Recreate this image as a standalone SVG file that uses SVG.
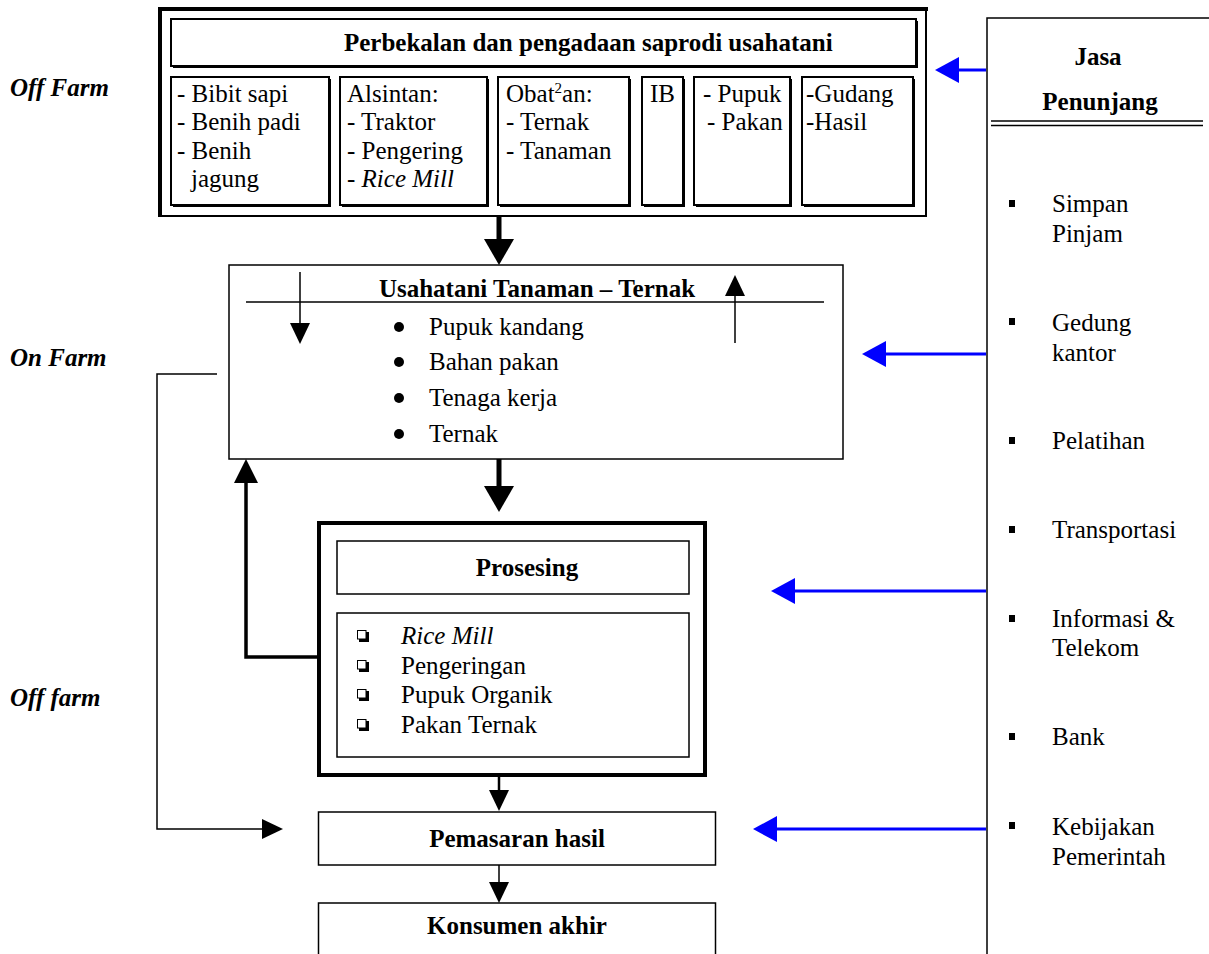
<svg xmlns="http://www.w3.org/2000/svg" width="1209" height="954" viewBox="0 0 1209 954">
<style>
text{font-family:"Liberation Serif","Times New Roman",serif;font-size:25px;fill:#000}
.b{font-weight:bold}
.i{font-style:italic}
.bi{font-weight:bold;font-style:italic}
.c{text-anchor:middle}
.box{fill:#fff;stroke:#000;stroke-width:1.5}
.sbox{fill:#fff;stroke:#000;stroke-width:2}
.shd{fill:#000}
.ln{fill:none;stroke:#000}
.blue{fill:none;stroke:#0000ff;stroke-width:3}
</style>
<defs>
<marker id="hBig" viewBox="0 -15 26 30" refX="0" refY="0" markerWidth="26" markerHeight="30" markerUnits="userSpaceOnUse" orient="auto"><path d="M0,-15L26,0L0,15z" fill="#000"/></marker>
<marker id="hMed" viewBox="0 -12 24 24" refX="0" refY="0" markerWidth="24" markerHeight="24" markerUnits="userSpaceOnUse" orient="auto"><path d="M0,-12L24,0L0,12z" fill="#000"/></marker>
<marker id="hSm" viewBox="0 -10 21 20" refX="0" refY="0" markerWidth="21" markerHeight="20" markerUnits="userSpaceOnUse" orient="auto"><path d="M0,-10L21,0L0,10z" fill="#000"/></marker>
<marker id="hBlue" viewBox="0 -13 24 26" refX="0" refY="0" markerWidth="24" markerHeight="26" markerUnits="userSpaceOnUse" orient="auto"><path d="M0,-13L24,0L0,13z" fill="#0000ff"/></marker>
</defs>
<rect width="1209" height="954" fill="#fff"/>

<g id="labels">
<text class="bi" x="10" y="96">Off Farm</text>
<text class="bi" x="10" y="366">On Farm</text>
<text class="bi" x="10" y="706">Off farm</text>
</g>

<g id="saprodi">
<rect x="160" y="9" width="766" height="207" fill="#fff"/>
<path d="M160,216V9H928" class="ln" stroke-width="4"/>
<path d="M926,8V216H158" class="ln" stroke-width="2"/>
<rect class="shd" x="173" y="21" width="745" height="47"/>
<rect class="sbox" x="171" y="19" width="745" height="47"/>
<text class="b" x="344" y="51">Perbekalan dan pengadaan saprodi usahatani</text>
<rect class="shd" x="173" y="79" width="158" height="128"/>
<rect class="sbox" x="171" y="77" width="158" height="128"/>
<text x="177" y="102">- Bibit sapi</text>
<text x="177" y="130">- Benih padi</text>
<text x="177" y="159">- Benih</text>
<text x="191" y="187">jagung</text>
<rect class="shd" x="342" y="79" width="147" height="128"/>
<rect class="sbox" x="340" y="77" width="147" height="128"/>
<text x="347" y="102">Alsintan:</text>
<text x="347" y="130">- Traktor</text>
<text x="347" y="159">- Pengering</text>
<text x="347" y="187">- <tspan class="i">Rice Mill</tspan></text>
<rect class="shd" x="500" y="79" width="131" height="128"/>
<rect class="sbox" x="498" y="77" width="131" height="128"/>
<text x="506" y="102">Obat<tspan font-size="15" dy="-9">2</tspan><tspan dy="9">an:</tspan></text>
<text x="506" y="130">- Ternak</text>
<text x="506" y="159">- Tanaman</text>
<rect class="shd" x="644" y="79" width="41" height="128"/>
<rect class="sbox" x="642" y="77" width="41" height="128"/>
<text x="650" y="102">IB</text>
<rect class="shd" x="696" y="79" width="96" height="128"/>
<rect class="sbox" x="694" y="77" width="96" height="128"/>
<text x="703" y="102">- Pupuk</text>
<text x="707" y="130">- Pakan</text>
<rect class="shd" x="804" y="79" width="111" height="128"/>
<rect class="sbox" x="802" y="77" width="111" height="128"/>
<text x="806" y="102">-Gudang</text>
<text x="806" y="130">-Hasil</text>
</g>

<g id="usahatani">
<rect class="box" x="229" y="265" width="614" height="194"/>
<text class="b c" x="537" y="297">Usahatani Tanaman – Ternak</text>
<line class="ln" x1="246" y1="302" x2="824" y2="302" stroke-width="1.5"/>
<circle cx="399" cy="327" r="5"/>
<circle cx="399" cy="362" r="5"/>
<circle cx="399" cy="398" r="5"/>
<circle cx="399" cy="434" r="5"/>
<text x="429" y="335">Pupuk kandang</text>
<text x="429" y="370">Bahan pakan</text>
<text x="429" y="406">Tenaga kerja</text>
<text x="429" y="442">Ternak</text>
</g>

<g id="prosesing">
<rect x="319" y="523" width="386" height="252" fill="#fff" stroke="#000" stroke-width="4"/>
<rect class="box" x="337" y="541" width="352" height="53" stroke-width="2"/>
<text class="b c" x="527" y="576">Prosesing</text>
<rect class="box" x="337" y="613" width="352" height="144" stroke-width="2"/>
<g fill="#000">
<rect x="359" y="632" width="10" height="10"/><rect x="359" y="662" width="10" height="10"/><rect x="359" y="691" width="10" height="10"/><rect x="359" y="721" width="10" height="10"/>
</g>
<g fill="#fff" stroke="#000" stroke-width="1">
<rect x="357.5" y="630.5" width="8.5" height="8.5"/><rect x="357.5" y="660.5" width="8.5" height="8.5"/><rect x="357.5" y="689.5" width="8.5" height="8.5"/><rect x="357.5" y="719.5" width="8.5" height="8.5"/>
</g>
<text class="i" x="401" y="644">Rice Mill</text>
<text x="401" y="674">Pengeringan</text>
<text x="401" y="703">Pupuk Organik</text>
<text x="401" y="733">Pakan Ternak</text>
</g>

<g id="pemasaran">
<rect class="box" x="318.5" y="812" width="397" height="53"/>
<text class="b c" x="517" y="847">Pemasaran hasil</text>
</g>

<g id="konsumen">
<rect class="box" x="318.5" y="903" width="397" height="60"/>
<text class="b c" x="517" y="934">Konsumen akhir</text>
</g>

<g id="jasa">
<rect class="box" x="987" y="18" width="240" height="950"/>
<text class="b c" x="1098" y="65">Jasa</text>
<text class="b c" x="1100" y="110">Penunjang</text>
<line class="ln" x1="991" y1="121" x2="1203" y2="121" stroke-width="1.5"/>
<line class="ln" x1="991" y1="125.5" x2="1203" y2="125.5" stroke-width="1.5"/>
<g fill="#000">
<rect x="1009" y="200" width="6" height="7"/>
<rect x="1009" y="318" width="6" height="7"/>
<rect x="1009" y="437" width="6" height="7"/>
<rect x="1009" y="526" width="6" height="7"/>
<rect x="1009" y="615" width="6" height="7"/>
<rect x="1009" y="733" width="6" height="7"/>
<rect x="1009" y="822" width="6" height="7"/>
</g>
<text x="1052" y="212">Simpan</text>
<text x="1052" y="242">Pinjam</text>
<text x="1052" y="331">Gedung</text>
<text x="1052" y="361">kantor</text>
<text x="1052" y="449">Pelatihan</text>
<text x="1052" y="538">Transportasi</text>
<text x="1052" y="627">Informasi &amp;</text>
<text x="1052" y="656">Telekom</text>
<text x="1052" y="745">Bank</text>
<text x="1052" y="835">Kebijakan</text>
<text x="1052" y="865">Pemerintah</text>
</g>

<g id="connectors">
<line class="ln" x1="499" y1="217" x2="499" y2="239" stroke-width="5" marker-end="url(#hBig)"/>
<line class="ln" x1="499" y1="459" x2="499" y2="486" stroke-width="5" marker-end="url(#hBig)"/>
<line class="ln" x1="300" y1="272" x2="300" y2="323" stroke-width="1.5" marker-end="url(#hSm)"/>
<line class="ln" x1="735" y1="343" x2="735" y2="296" stroke-width="1.5" marker-end="url(#hSm)"/>
<polyline class="ln" points="318,657 246,657 246,483" stroke-width="3.5" marker-end="url(#hMed)"/>
<line class="ln" x1="499" y1="777" x2="499" y2="790" stroke-width="2.5" marker-end="url(#hSm)"/>
<line class="ln" x1="499" y1="865" x2="499" y2="882" stroke-width="1.5" marker-end="url(#hSm)"/>
<polyline class="ln" points="217,374 157,374 157,829 262,829" stroke-width="1.5" marker-end="url(#hSm)"/>
<line class="blue" x1="986" y1="70" x2="959" y2="70" marker-end="url(#hBlue)"/>
<line class="blue" x1="986" y1="354" x2="886" y2="354" marker-end="url(#hBlue)"/>
<line class="blue" x1="986" y1="591" x2="795" y2="591" marker-end="url(#hBlue)"/>
<line class="blue" x1="986" y1="829" x2="777" y2="829" marker-end="url(#hBlue)"/>
</g>
</svg>
